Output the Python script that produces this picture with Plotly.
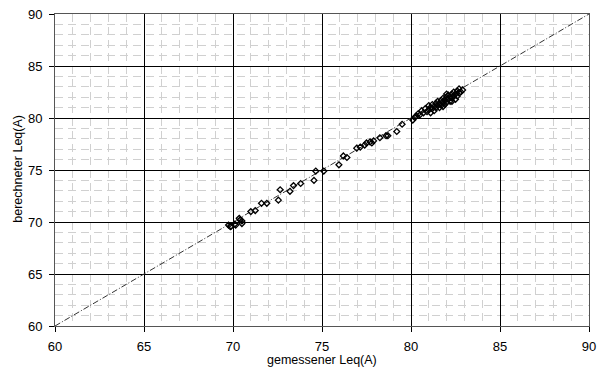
import plotly.graph_objects as go

# measured (gemessener) and calculated (berechneter) Leq(A)
gemessen = [69.75, 69.85, 69.9, 70.1, 70.15, 70.35, 70.4, 70.5, 70.5, 71.0, 71.25, 71.6, 71.9,
            72.55, 72.65, 73.2, 73.4, 73.8, 74.55, 74.65, 75.1, 75.95, 76.2, 76.4,
            76.95, 77.15, 77.4, 77.5, 77.7, 77.8, 77.9, 78.25, 78.6, 78.7, 79.2, 79.5,
            80.1, 80.2,
            80.3, 80.4, 80.5, 80.6, 80.7, 80.8, 80.9, 81.0, 81.0, 81.1, 81.1, 81.2, 81.2,
            81.3, 81.3, 81.4, 81.4, 81.5, 81.5, 81.6, 81.6, 81.7, 81.7, 81.8, 81.8, 81.9,
            81.9, 82.0, 82.0, 82.1, 82.1, 82.2, 82.2, 82.3, 82.3, 82.4, 82.4, 82.5, 82.5,
            82.6, 82.6, 82.7, 82.7, 82.8, 82.9, 82.0, 81.8, 82.3]
berechnet = [69.7, 69.55, 69.6, 69.8, 69.7, 70.35, 70.2, 70.1, 69.85, 71.0, 71.1, 71.8, 71.8,
             72.1, 73.1, 72.95, 73.5, 73.7, 74.0, 74.9, 74.9, 75.5, 76.35, 76.2,
             77.1, 77.2, 77.4, 77.6, 77.7, 77.6, 77.8, 78.1, 78.3, 78.3, 78.7, 79.4,
             79.8, 80.05,
             80.2, 80.4, 80.3, 80.7, 80.5, 80.9, 80.6, 81.2, 80.8, 81.0, 80.5, 81.3, 80.9,
             81.1, 80.7, 81.4, 81.0, 81.2, 81.6, 81.0, 81.4, 81.7, 81.2, 81.5, 81.9, 81.3,
             81.7, 82.0, 81.5, 81.8, 82.2, 81.6, 82.0, 82.3, 81.9, 82.1, 82.5, 81.8, 82.3,
             82.6, 82.1, 82.4, 82.8, 82.5, 82.7, 82.3, 81.1, 81.6]

diag = [60, 90]
tick_vals = [60, 65, 70, 75, 80, 85, 90]
x_title = "gemessener Leq(A)"
y_title = "berechneter Leq(A)"

FONT = "Liberation Sans, Arial, sans-serif"

fig = go.Figure()
fig.add_trace(go.Scatter(x=diag, y=diag, mode="lines",
                         line=dict(color="#333333", width=1, dash="6px,2px,1px,2px"),
                         hoverinfo="skip", showlegend=False))
fig.add_trace(go.Scatter(x=gemessen, y=berechnet, mode="markers",
                         marker=dict(symbol="diamond-open", size=4.5, color="#000000",
                                     line=dict(width=1.3, color="#000000")),
                         showlegend=False))

axis_common = dict(
    range=[60, 90], tickvals=tick_vals, showgrid=True, gridcolor="#000000", gridwidth=1,
    minor=dict(dtick=1, showgrid=True, gridcolor="#d0d0d0", griddash="8px,5px", gridwidth=1),
    showline=True, linecolor="#555555", linewidth=1, mirror=True,
    ticks="outside", ticklen=5, tickcolor="#000000",
    tickfont=dict(family=FONT, size=13, color="#000000"),
    zeroline=False, fixedrange=True, automargin=False,
)

fig.update_layout(
    width=597, height=367,
    margin=dict(l=55, r=8, t=14, b=41),
    paper_bgcolor="white", plot_bgcolor="white",
    font=dict(family=FONT, color="#000000"),
    xaxis=dict(axis_common, ticklabelstandoff=3),
    yaxis=dict(axis_common, ticklabelstandoff=4),
    annotations=[
        dict(text=x_title, xref="paper", yref="paper", x=0.5, y=0, xanchor="center",
             yanchor="middle", yshift=-34, showarrow=False, font=dict(family=FONT, size=12.5)),
        dict(text=y_title, xref="paper", yref="paper", x=0, y=0.504, xanchor="center",
             yanchor="middle", xshift=-37, textangle=-90, showarrow=False,
             font=dict(family=FONT, size=12.5)),
    ],
)

fig.write_html("out.html", config={"displayModeBar": False},
               post_script="document.body.style.margin='0px';document.body.style.overflow='hidden';")
